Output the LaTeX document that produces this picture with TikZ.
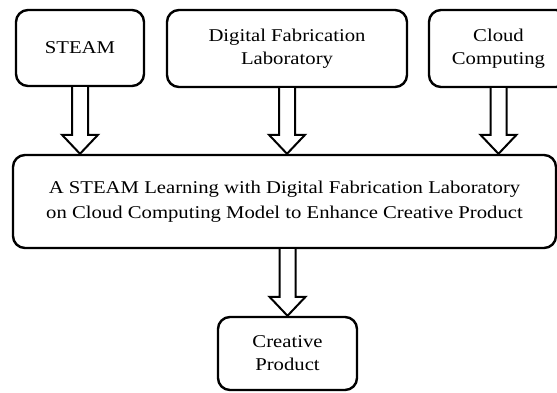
\documentclass[tikz,border=0pt]{standalone}
\usepackage{fontspec}
\setmainfont{Liberation Serif}[FakeStretch=1.15]
\usetikzlibrary{calc}

% hollow block arrow, drawn straight down from #1 to #2
\newcommand{\hollowarrow}[2]{%
  \draw[hollow arrow] let \p1=#1, \p2=#2 in
    (\x1-8,\y1) -- (\x1-8,\y2+19) -- (\x1-18,\y2+19) -- (\x1,\y2)
    -- (\x1+18,\y2+19) -- (\x1+8,\y2+19) -- (\x1+8,\y1);}

\begin{document}
\begin{tikzpicture}[x=1pt,y=-1pt,
  main box/.style={rectangle,rounded corners=12pt,draw,line width=2.4pt,
    align=center,font=\fontsize{18}{23}\selectfont,inner sep=2pt},
  hollow arrow/.style={draw,fill=white,line width=2pt,line join=miter}]

  \useasboundingbox (0,0) rectangle (557,392);

  \node[main box, minimum width=128pt, minimum height=76pt] (STEAM) at (80,48) {STEAM};
  \node[main box, minimum width=240pt, minimum height=77pt] (FabLab) at (287,48.5)
    {Digital Fabrication\\Laboratory};
  \node[main box, minimum width=139pt, minimum height=77pt] (Cloud) at (498.5,48.5)
    {Cloud\\Computing};
  \node[main box, minimum width=543pt, minimum height=93pt,
    font=\fontsize{18}{25}\selectfont] (Model) at (284.5,201.5)
    {A STEAM Learning with Digital Fabrication Laboratory\\
     on Cloud Computing Model to Enhance Creative Product};
  \node[main box, minimum width=139pt, minimum height=73pt] (Product) at (287.5,353.5)
    {Creative\\Product};

  \hollowarrow{(STEAM.south)}{(STEAM.south |- Model.north)}
  \hollowarrow{(FabLab.south)}{(FabLab.south |- Model.north)}
  \hollowarrow{(Cloud.south)}{(Cloud.south |- Model.north)}
  \hollowarrow{(Model.south -| Product.north)}{(Product.north)}
\end{tikzpicture}
\end{document}
